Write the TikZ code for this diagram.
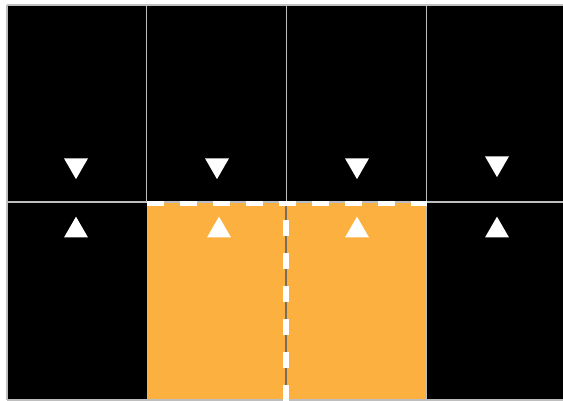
\documentclass[tikz,border=0pt]{standalone}
\usetikzlibrary{shapes.geometric}
\definecolor{cellorange}{RGB}{251,176,64}
\definecolor{gridgray}{RGB}{190,190,190}
\definecolor{midgray}{RGB}{120,110,95}
\begin{document}
\begin{tikzpicture}[x=1pt,y=-1pt,
  gridline/.style={draw=gridgray,line width=1.5pt},
  wdash/.style={draw=white,line width=5.5pt,dash pattern=on 16.5pt off 16.5pt},
  vdash/.style={draw=white,line width=6pt,dash pattern=on 16pt off 17pt},
  tri/.style={regular polygon,regular polygon sides=3,fill=white,inner sep=0pt,minimum size=27.7pt},
  tridown/.style={tri,shape border rotate=180},
]
\useasboundingbox (0,0) rectangle (563,401);
% cells
\fill[black] (7,5.5) rectangle (563,202);
\fill[black] (7,202) rectangle (147,400);
\fill[black] (426.5,202) rectangle (563,400);
\fill[cellorange] (147,202) rectangle (426.5,400);
% grid lines
\draw[gridline] (7,5) -- (563,5);
\draw[gridline] (7,202) -- (563,202);
\draw[gridline] (7,400) -- (563,400);
\draw[gridline] (7,5) -- (7,400);
\draw[gridline] (146.5,5) -- (146.5,202);
\draw[gridline] (286.5,5) -- (286.5,202);
\draw[gridline] (426.5,5) -- (426.5,400);
\draw[draw=midgray,line width=1.5pt] (286,202) -- (286,400);
% dashed boundaries of the orange region
\coordinate (hs) at (147,203.5);
\coordinate (he) at (427,203.5);
\coordinate (vs) at (286,220);
\coordinate (ve) at (286,401);
\draw[wdash] (hs) -- (he);
\draw[vdash] (vs) -- (ve);
% triangles
\node[tridown] (d1) at (76,165.3) {};
\node[tridown] (d2) at (217,165.3) {};
\node[tridown] (d3) at (357,165.3) {};
\node[tridown] (d4) at (497,163.3) {};
\node[tri] (u1) at (76,230.5) {};
\node[tri] (u2) at (219,230.5) {};
\node[tri] (u3) at (357,230.5) {};
\node[tri] (u4) at (497,230.5) {};
\end{tikzpicture}
\end{document}
